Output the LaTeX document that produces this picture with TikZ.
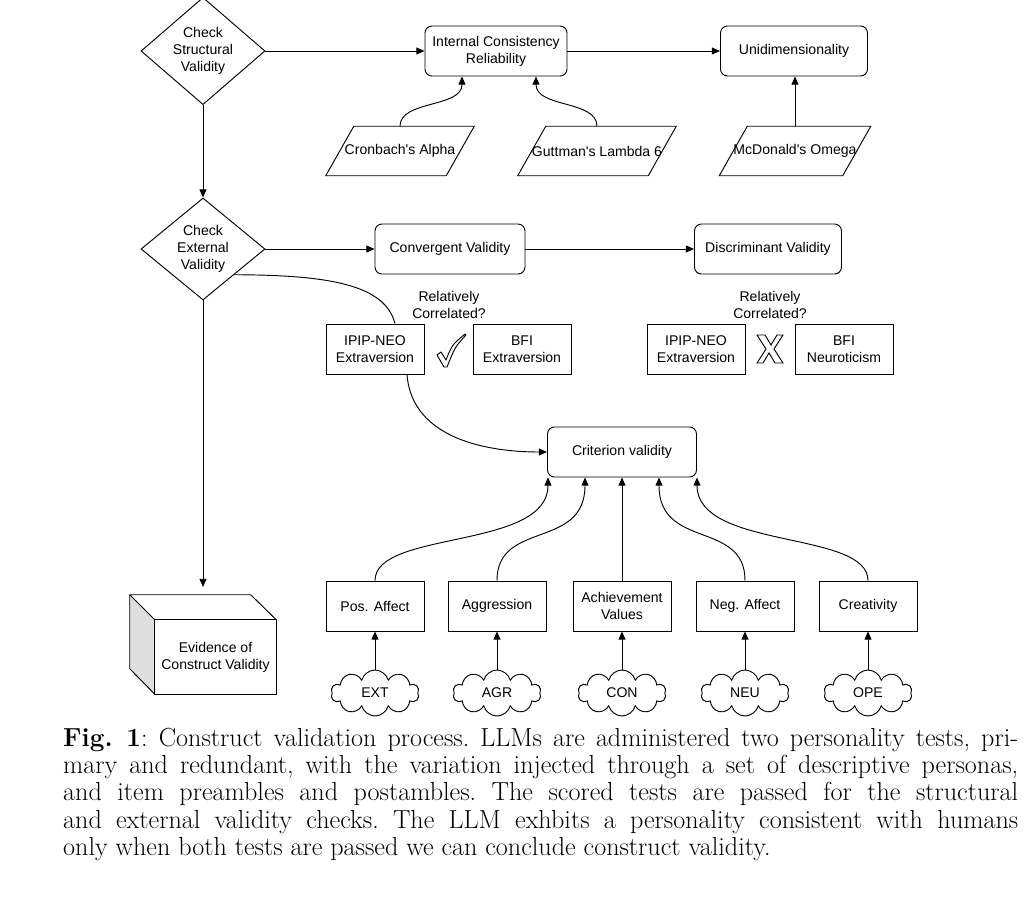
\documentclass[tikz,border=0pt]{standalone}
\usepackage{fontspec}
\newfontfamily\diag{Liberation Sans}
\usetikzlibrary{shapes.geometric,shapes.symbols,arrows.meta,calc}
\begin{document}
\begin{tikzpicture}[x=0.03cm,y=-0.03cm,
  every node/.style={font=\diag\fontsize{12}{14.5}\selectfont, align=center},
  dia/.style={diamond, draw, thick, minimum width=124*0.03cm, minimum height=102*0.03cm, inner sep=0pt},
  rbox/.style={draw, thick, rounded corners=6pt, minimum height=50*0.03cm},
  sbox/.style={draw, thick, minimum width=98*0.03cm, minimum height=50*0.03cm, inner sep=1pt},
  par/.style={minimum width=120*0.03cm, minimum height=49*0.03cm, inner sep=0pt},
  cl/.style={cloud, draw, thick, cloud puffs=10, aspect=2, minimum width=88*0.03cm, minimum height=46*0.03cm, inner sep=0pt},
  arr/.style={thick, -{Triangle[length=7pt,width=6pt]}},
  con/.style={thick}]
\useasboundingbox (0,0) rectangle (1031,901);
\fill[white] (0,0) rectangle (1031,901);
\node[dia] (d1) at (203,51) {Check\\Structural\\Validity};
\coordinate (top) at (203,-12);
\draw[arr] (top) -- (d1.north);
\node[rbox, minimum width=142*0.03cm] (icr) at (496,51) {Internal Consistency\\Reliability};
\node[rbox, minimum width=147*0.03cm] (uni) at (794,51) {Unidimensionality};
\draw[arr] (d1.east) -- (icr.west);
\draw[arr] (icr.east) -- (uni.west);
\foreach \n/\x/\t in {cr/400/Cronbach's Alpha, gu/597/Guttman's Lambda 6, mc/795/McDonald's Omega}{
  \node[par] (\n) at (\x,151) {\t};
  \draw[thick] ($(\n.south west)+(-14,0)$) -- ($(\n.north west)+(14,0)$) -- ($(\n.north east)+(14,0)$) -- ($(\n.south east)+(-14,0)$) -- cycle;
}
\draw[arr] (cr.north) .. controls (400,100) and (462,108) .. (icr.south west -| 462,0);
\draw[arr] (gu.north) .. controls (597,100) and (536,108) .. (icr.south west -| 536,0);
\draw[arr] (mc.north) -- (uni.south -| mc.north);
\node[dia] (d2) at (203,249) {Check\\External\\Validity};
\draw[arr] (d1.south) -- (d2.north);
\node[rbox, minimum width=150*0.03cm] (cv) at (450,249) {Convergent Validity};
\node[rbox, minimum width=147*0.03cm] (dv) at (768,249) {Discriminant Validity};
\draw[arr] (d2.east) -- (cv.west);
\draw[arr] (cv.east) -- (dv.west);
\node (rc1) at (449,305) {Relatively\\Correlated?};
\node (rc2) at (770,305) {Relatively\\Correlated?};
\node[sbox] (ip1) at (375,349) {IPIP-NEO\\Extraversion};
\node[sbox] (bf1) at (522,349) {BFI\\Extraversion};
\node[sbox] (ip2) at (696,349) {IPIP-NEO\\Extraversion};
\node[sbox] (bf2) at (844,349) {BFI\\Neuroticism};
% check mark
\node (ck) at (450,350) {};
\draw[thick, line join=round] ($(ck)+(-13,5)$) -- ($(ck)+(-9,2)$) -- ($(ck)+(-4,10)$) .. controls ($(ck)+(2,-5)$) .. ($(ck)+(15,-16)$) -- ($(ck)+(16,-15)$) .. controls ($(ck)+(5,-3)$) .. ($(ck)+(-3,17)$) -- ($(ck)+(-6,17)$) -- cycle;
% X mark
\node (xm) at (770,349) {};
\draw[thick, line join=miter] ($(xm)+(-13,-14)$) -- ($(xm)+(-5,-14)$) -- ($(xm)+(1,-4)$) -- ($(xm)+(7,-14)$) -- ($(xm)+(13,-14)$) -- ($(xm)+(4,0)$) -- ($(xm)+(13,14)$) -- ($(xm)+(5,14)$) -- ($(xm)+(-1,4)$) -- ($(xm)+(-7,14)$) -- ($(xm)+(-13,14)$) -- ($(xm)+(-4,0)$) -- cycle;
\node[rbox, minimum width=149*0.03cm] (crit) at (622,452) {Criterion validity};
\draw[con] ($(d2.east)!0.5!(d2.south)$) .. controls (330,275) and (385,285) .. ($(ip1.north)+(20,0)$);
\draw[arr] ($(ip1.south)+(32,0)$) .. controls (412,440) and (490,452) .. (crit.west);
% cube
\node[minimum width=121*0.03cm, minimum height=74*0.03cm, inner sep=0pt] (ev) at (215.5,657) {Evidence of\\Construct Validity};
\fill[gray!25] ($(ev.north west)$) -- ++(-25,-25) -- ++(0,74) -- ($(ev.south west)$) -- cycle;
\draw[thick, line join=round] (ev.south west) rectangle (ev.north east);
\draw[thick, line join=round] (ev.north west) -- ++(-25,-25) -- ++(121,0) -- (ev.north east);
\draw[thick, line join=round] (ev.north west) ++(-25,-25) -- ++(0,74) -- (ev.south west);
\draw[arr] (d2.south) -- (203,587);
% bottom row
\foreach \n/\x/\t/\c in {pa/375/Pos. Affect/EXT, ag/497/Aggression/AGR, ac/622/Achievement\\Values/CON, na/745/Neg. Affect/NEU, cr2/868/Creativity/OPE}{
  \node[sbox] (\n) at (\x,606) {\t};
  \node[cl] (c\n) at (\x,693) {\c};
  \draw[arr] (c\n.north) -- (\n.south);
}
\draw[arr] (pa.north) .. controls (375,530) and (548,550) .. (crit.south west -| 548,0);
\draw[arr] (ag.north) .. controls (497,520) and (585,550) .. (crit.south -| 585,0);
\draw[arr] (ac.north) -- (crit.south);
\draw[arr] (na.north) .. controls (745,520) and (659,550) .. (crit.south -| 659,0);
\draw[arr] (cr2.north) .. controls (868,530) and (697,550) .. (crit.south east -| 697,0);
% caption
\node[anchor=north west, inner sep=0pt, text width=955*0.03cm, align=justify, font=\frenchspacing\fontsize{22.3}{23.2}\selectfont] (cap) at (63,728) {\textbf{Fig.~1}: Construct validation process. LLMs are administered two personality tests, pri-\linebreak mary and redundant, with the variation injected through a set of descriptive personas,\linebreak and item preambles and postambles. The scored tests are passed for the structural\linebreak and external validity checks. The LLM exhbits a personality consistent with humans\linebreak only when both tests are passed we can conclude construct validity.};
\end{tikzpicture}
\end{document}
